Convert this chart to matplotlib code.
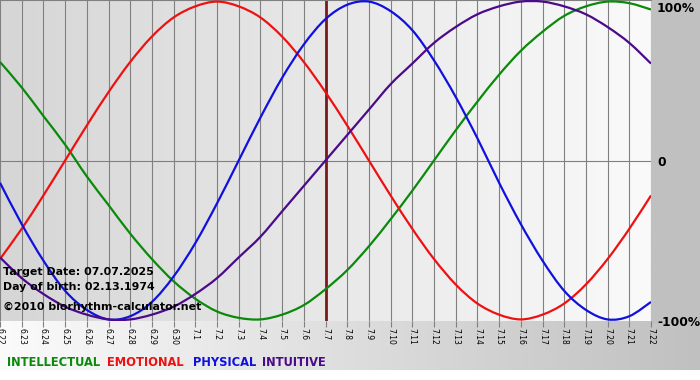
import matplotlib
matplotlib.use("Agg")
import matplotlib.pyplot as plt
import numpy as np
from matplotlib.colors import LinearSegmentedColormap
from matplotlib.patches import Rectangle, PathPatch
from matplotlib.path import Path

# day labels along the bottom (6.22 .. 7.22)
days = ["6.22", "6.23", "6.24", "6.25", "6.26", "6.27", "6.28", "6.29", "6.30",
        "7.1", "7.2", "7.3", "7.4", "7.5", "7.6", "7.7", "7.8", "7.9", "7.10",
        "7.11", "7.12", "7.13", "7.14", "7.15", "7.16", "7.17", "7.18", "7.19",
        "7.20", "7.21", "7.22"]
target_day = "7.7"

# daily values (-1 .. 1)
intellectual = [0.62, 0.46, 0.28, 0.10, -0.10, -0.28, -0.46, -0.62, -0.76, -0.87,
                -0.95, -0.99, -1.00, -0.97, -0.91, -0.81, -0.69, -0.54, -0.37, -0.19,
                0.00, 0.19, 0.37, 0.54, 0.69, 0.81, 0.91, 0.97, 1.00, 0.99, 0.95]
emotional = [-0.62, -0.43, -0.22, 0.00, 0.22, 0.43, 0.62, 0.78, 0.90, 0.97,
             1.00, 0.97, 0.90, 0.78, 0.62, 0.43, 0.22, 0.00, -0.22, -0.43,
             -0.62, -0.78, -0.90, -0.97, -1.00, -0.97, -0.90, -0.78, -0.62, -0.43, -0.22]
physical = [-0.14, -0.40, -0.63, -0.82, -0.94, -1.00, -0.98, -0.89, -0.73, -0.52,
            -0.27, 0.00, 0.27, 0.52, 0.73, 0.89, 0.98, 1.00, 0.94, 0.82,
            0.63, 0.40, 0.14, -0.14, -0.40, -0.63, -0.82, -0.94, -1.00, -0.98, -0.89]
intuitive = [-0.61, -0.74, -0.84, -0.92, -0.97, -1.00, -1.00, -0.97, -0.92, -0.84,
             -0.74, -0.61, -0.48, -0.32, -0.16, 0.00, 0.16, 0.32, 0.48, 0.61,
             0.74, 0.84, 0.92, 0.97, 1.00, 1.00, 0.97, 0.92, 0.84, 0.74, 0.61]

series = [("INTELLECTUAL", intellectual, "#0a8a0a"),
          ("EMOTIONAL", emotional, "#ee1111"),
          ("PHYSICAL", physical, "#1111dd"),
          ("INTUITIVE", intuitive, "#4b0a8a")]


def smooth_path(xs, ys):
    # catmull-rom through the daily points, drawn as bezier segments
    pts = np.column_stack([xs, ys]).astype(float)
    ext = np.vstack([pts[0], pts, pts[-1]])
    verts = [pts[0]]
    codes = [Path.MOVETO]
    for i in range(1, len(ext) - 2):
        p0, p1, p2, p3 = ext[i - 1], ext[i], ext[i + 1], ext[i + 2]
        verts += [p1 + (p2 - p0) / 6, p2 - (p3 - p1) / 6, p2]
        codes += [Path.CURVE4] * 3
    return Path(verts, codes)


W, H = 700, 380
fig = plt.figure(figsize=(7, 3.8), dpi=100)
fig.patch.set_facecolor("white")

# background panel (right margin, bottom band)
bg = fig.add_axes([0, 0, 1, 1], zorder=-1)
grad = np.linspace(0, 1, 256).reshape(1, -1)
bg.imshow(grad, extent=(0, W, 370, 321), aspect="auto",
          cmap=LinearSegmentedColormap.from_list("band", ["#fbfbfb", "#c0c0c0"]))
bg.add_patch(Rectangle((651, 0), W - 651, 322, color="#c0c0c0"))
bg.set_xlim(0, W)
bg.set_ylim(H, 0)
bg.axis("off")

# main plot
ax = fig.add_axes([0, 1 - 321 / H, 651 / W, 321 / H])
x = np.arange(len(days))
ax.imshow(grad, extent=(0, len(days) - 1, -1.01, 1.01), aspect="auto", zorder=0,
          cmap=LinearSegmentedColormap.from_list("plot", ["#d6d6d6", "#fafafa"]))
for xi in x:
    ax.axvline(xi, color="#808080", lw=0.8, zorder=1)
ax.axhline(0, color="#808080", lw=0.8, zorder=1)
ax.axvline(days.index(target_day), color="#7b1a1a", lw=2, zorder=2)

for name, vals, col in series:
    ax.add_patch(PathPatch(smooth_path(x, vals), fill=False, edgecolor=col,
                           lw=1.6, zorder=3))

ax.set_xlim(0, len(days) - 1)
ax.set_ylim(-1.01, 1.01)
ax.set_xticks(x)
ax.set_xticklabels(days, rotation=270, fontsize=5.5)
ax.tick_params(axis="x", length=4, color="#808080", pad=1)
ax.set_yticks([])
for s in ["left", "right", "bottom"]:
    ax.spines[s].set_visible(False)
ax.spines["top"].set_color("#808080")

# right side percent labels
for txt, py in [("100%", 8), ("0", 162), ("-100%", 322)]:
    fig.text(657 / W, 1 - py / H, txt, fontsize=8.8, fontweight="bold",
             ha="left", va="center")

# info text
for txt, py in [("Target Date: 07.07.2025", 272),
                ("Day of birth: 02.13.1974", 287),
                ("\u00a92010 biorhythm-calculator.net", 307)]:
    fig.text(3 / W, 1 - py / H, txt, fontsize=7.9, fontweight="bold",
             ha="left", va="center", zorder=5)

# legend
for (name, vals, col), px in zip(series, [7, 107, 193, 262]):
    fig.text(px / W, 1 - 362 / H, name, fontsize=8.3, fontweight="bold",
             color=col, ha="left", va="center")

fig.savefig("out.png", dpi=100)
